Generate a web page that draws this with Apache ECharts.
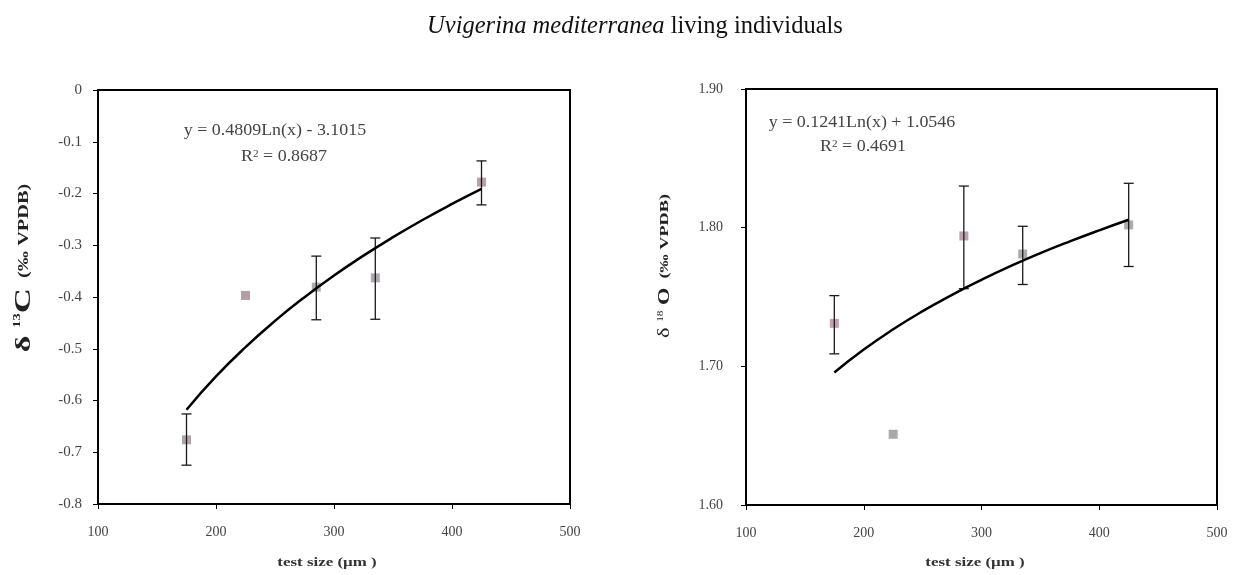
<!DOCTYPE html>
<html>
<head>
<meta charset="utf-8">
<script src="https://cdn.jsdelivr.net/npm/echarts@6/dist/echarts.min.js"></script>
<style>
html,body{margin:0;padding:0;background:#fff;}
#c{width:1234px;height:575px;}
</style>
</head>
<body>
<div id="c"></div>
<script>
// ---------- data ----------
const testSize = [175, 225, 285, 335, 425];

// left panel: delta 13C
const c13Mean = [-0.676, -0.397, -0.381, -0.363, -0.178];
const c13Low  = [-0.725, -0.397, -0.444, -0.443, -0.222];
const c13High = [-0.626, -0.397, -0.321, -0.286, -0.137];
const c13Colors = ['#9c8f96', '#a0868f', '#9a9698', '#99939a', '#a78995'];

// right panel: delta 18O
const o18Mean = [1.731, 1.651, 1.794, 1.781, 1.802];
const o18Low  = [1.709, 1.651, 1.756, 1.759, 1.772];
const o18High = [1.751, 1.651, 1.830, 1.801, 1.832];
const o18Colors = ['#b08a99', '#959395', '#ad8a98', '#979597', '#999799'];

// trend lines
const fitX = [175, 200, 225, 250, 275, 300, 325, 350, 375, 400, 425];
const c13Fit = [-0.6178, -0.5535, -0.4969, -0.4462, -0.4004, -0.3586, -0.3201, -0.2844, -0.2512, -0.2202, -0.1911];
const o18Fit = [1.6956, 1.7121, 1.7267, 1.7398, 1.7516, 1.7624, 1.7724, 1.7816, 1.7901, 1.7981, 1.8057];

// tick labels
const xTickLabels = ['100', '200', '300', '400', '500'];
const c13TickLabels = ['-0.8', '-0.7', '-0.6', '-0.5', '-0.4', '-0.3', '-0.2', '-0.1', '0'];
const o18TickLabels = ['1.60', '1.70', '1.80', '1.90'];

// text
const titleItalic = 'Uvigerina mediterranea';
const titleRest = ' living individuals';
const c13Eq = 'y = 0.4809Ln(x) - 3.1015';
const c13R2 = '0.8687';
const o18Eq = 'y = 0.1241Ln(x) + 1.0546';
const o18R2 = '0.4691';
const xName = 'test size (\u00b5m )';

// ---------- chart ----------
const FONT = '"Liberation Serif", "DejaVu Serif", serif';
const chart = echarts.init(document.getElementById('c'));

function tickFmt(labels, min, step) {
  return function (v) {
    const i = Math.round((v - min) / step);
    return labels[i] !== undefined ? labels[i] : '';
  };
}

function errorBarSeries(xi, yi, low, high) {
  return {
    type: 'custom',
    xAxisIndex: xi, yAxisIndex: yi,
    silent: true,
    z: 3,
    data: testSize.map((x, i) => [x, low[i], high[i]]),
    renderItem: function (params, api) {
      const top = api.coord([api.value(0), api.value(2)]);
      const bot = api.coord([api.value(0), api.value(1)]);
      if (Math.abs(top[1] - bot[1]) < 2) return { type: 'group', children: [] };
      const hw = 5;
      const st = { stroke: '#1a1a1a', lineWidth: 1.3 };
      return {
        type: 'group',
        children: [
          { type: 'line', shape: { x1: top[0], y1: top[1], x2: bot[0], y2: bot[1] }, style: st },
          { type: 'line', shape: { x1: top[0] - hw, y1: top[1], x2: top[0] + hw, y2: top[1] }, style: st },
          { type: 'line', shape: { x1: bot[0] - hw, y1: bot[1], x2: bot[0] + hw, y2: bot[1] }, style: st }
        ]
      };
    }
  };
}

const axisLineStyle = { show: true, onZero: false, lineStyle: { color: '#000', width: 2 } };
const tickStyle = { show: true, inside: false, length: 5, lineStyle: { color: '#000', width: 1 } };
const labelStyle = { fontFamily: FONT, fontSize: 14, color: '#444' };
const yLabelStyle = { fontFamily: FONT, fontSize: 15, color: '#444' };

function xAxis(gi) {
  return {
    type: 'value', gridIndex: gi, min: 100, max: 500, interval: 100,
    axisLine: axisLineStyle, axisTick: tickStyle, splitLine: { show: false },
    axisLabel: Object.assign({ margin: 21, formatter: tickFmt(xTickLabels, 100, 100) }, labelStyle)
  };
}

function xTitle(x) {
  return {
    type: 'text', x: x, y: 563, scaleX: 1.3, z: 10,
    style: { text: xName, align: 'center', verticalAlign: 'middle', font: 'bold 13px ' + FONT, fill: '#333' }
  };
}

const eqRich = {
  t: { fontFamily: FONT, fontSize: 16, fill: '#444' },
  s: { fontFamily: FONT, fontSize: 10, fill: '#444', verticalAlign: 'top' }
};

chart.setOption({
  backgroundColor: '#fff',
  animation: false,
  grid: [
    { left: 98, top: 90, width: 472, height: 414, show: true, borderColor: '#000', borderWidth: 2, backgroundColor: '#fff' },
    { left: 746, top: 89, width: 471, height: 416, show: true, borderColor: '#000', borderWidth: 2, backgroundColor: '#fff' }
  ],
  xAxis: [xAxis(0), xAxis(1)],
  yAxis: [
    {
      type: 'value', gridIndex: 0, min: -0.8, max: 0, interval: 0.1,
      axisLine: axisLineStyle, axisTick: tickStyle, splitLine: { show: false },
      axisLabel: Object.assign({ margin: 16, formatter: tickFmt(c13TickLabels, -0.8, 0.1) }, yLabelStyle)
    },
    {
      type: 'value', gridIndex: 1, min: 1.6, max: 1.9, interval: 0.1,
      axisLine: axisLineStyle, axisTick: tickStyle, splitLine: { show: false },
      axisLabel: Object.assign({ margin: 23, formatter: tickFmt(o18TickLabels, 1.6, 0.1) }, labelStyle)
    }
  ],
  series: [
    {
      type: 'scatter', xAxisIndex: 0, yAxisIndex: 0, symbol: 'rect', symbolSize: 9, z: 2,
      data: testSize.map((x, i) => ({ value: [x, c13Mean[i]], itemStyle: { color: c13Colors[i] } }))
    },
    errorBarSeries(0, 0, c13Low, c13High),
    {
      type: 'line', xAxisIndex: 0, yAxisIndex: 0, smooth: true, showSymbol: false, z: 4,
      lineStyle: { color: '#000', width: 2.5 },
      data: fitX.map((x, i) => [x, c13Fit[i]])
    },
    {
      type: 'scatter', xAxisIndex: 1, yAxisIndex: 1, symbol: 'rect', symbolSize: 9, z: 2,
      data: testSize.map((x, i) => ({ value: [x, o18Mean[i]], itemStyle: { color: o18Colors[i] } }))
    },
    errorBarSeries(1, 1, o18Low, o18High),
    {
      type: 'line', xAxisIndex: 1, yAxisIndex: 1, smooth: true, showSymbol: false, z: 4,
      lineStyle: { color: '#000', width: 2.5 },
      data: fitX.map((x, i) => [x, o18Fit[i]])
    }
  ],
  graphic: [
    {
      type: 'text', x: 635, y: 27, z: 10,
      style: {
        text: '{i|' + titleItalic + '}{n|' + titleRest + '}',
        align: 'center', verticalAlign: 'middle',
        rich: {
          i: { fontFamily: FONT, fontSize: 24.5, fontStyle: 'italic', fill: '#111' },
          n: { fontFamily: FONT, fontSize: 24.5, fill: '#111' }
        }
      }
    },
    // equations
    { type: 'text', x: 275, y: 131, scaleX: 1.12, z: 10, style: { text: c13Eq, align: 'center', verticalAlign: 'middle', font: '16px ' + FONT, fill: '#444' } },
    { type: 'text', x: 284, y: 157, scaleX: 1.12, z: 10, style: { text: '{t|R}{s|2}{t| = ' + c13R2 + '}', align: 'center', verticalAlign: 'middle', rich: eqRich } },
    { type: 'text', x: 862, y: 123, scaleX: 1.12, z: 10, style: { text: o18Eq, align: 'center', verticalAlign: 'middle', font: '16px ' + FONT, fill: '#444' } },
    { type: 'text', x: 863, y: 147, scaleX: 1.12, z: 10, style: { text: '{t|R}{s|2}{t| = ' + o18R2 + '}', align: 'center', verticalAlign: 'middle', rich: eqRich } },
    // x axis titles
    xTitle(327),
    xTitle(975),
    // y axis titles
    {
      type: 'text', x: 24, y: 268, rotation: Math.PI / 2, scaleX: 1.45, z: 10,
      style: {
        text: '{d|\u03b4 }{s|13}{c|C}{u|  (\u2030 VPDB)}', align: 'center', verticalAlign: 'middle',
        rich: {
          d: { fontFamily: FONT, fontSize: 22, fontWeight: 'bold', fill: '#222' },
          s: { fontFamily: FONT, fontSize: 10, fontWeight: 'bold', fill: '#222', verticalAlign: 'top' },
          c: { fontFamily: FONT, fontSize: 24, fontWeight: 'bold', fill: '#222' },
          u: { fontFamily: FONT, fontSize: 14, fontWeight: 'bold', fill: '#222' }
        }
      }
    },
    {
      type: 'text', x: 665, y: 266, rotation: Math.PI / 2, scaleX: 1.4, z: 10,
      style: {
        text: '{d|\u03b4 }{s|18}{o| O}{u|  (\u2030 VPDB)}', align: 'center', verticalAlign: 'middle',
        rich: {
          d: { fontFamily: FONT, fontSize: 16, fill: '#222' },
          s: { fontFamily: FONT, fontSize: 8, fill: '#222', verticalAlign: 'top' },
          o: { fontFamily: FONT, fontSize: 16, fontWeight: 'bold', fill: '#222' },
          u: { fontFamily: FONT, fontSize: 13, fontWeight: 'bold', fill: '#222' }
        }
      }
    }
  ]
});
</script>
</body>
</html>
